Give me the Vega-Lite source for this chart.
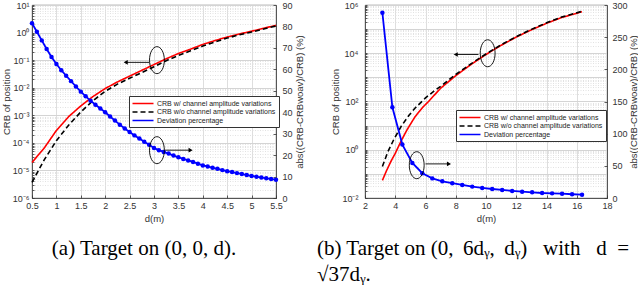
{
  "$schema": "https://vega.github.io/schema/vega-lite/v6.json",
  "padding": {"left": 0, "top": 0, "right": 0, "bottom": 0},
  "config": {
    "view": {"stroke": "#333333", "strokeWidth": 0.8},
    "axis": {"labelFont": "Liberation Sans", "labelFontSize": 9, "labelColor": "#333333", "titleFont": "Liberation Sans", "titleFontSize": 9.5, "titleFontWeight": "normal", "titleColor": "#333333", "domainColor": "#333333", "tickColor": "#333333", "domainWidth": 0.8, "tickWidth": 0.8, "labelOverlap": false, "labelFlush": false},
    "title": {"font": "Liberation Serif", "fontSize": 21, "fontWeight": "normal", "color": "#000000", "orient": "bottom", "lineHeight": 26}
  },
  "datasets": {
    "crbA": [
      {"d": 0.5, "series": "CRB w/ channel amplitude variations", "crb": 1.95e-5},
      {"d": 0.75, "series": "CRB w/ channel amplitude variations", "crb": 6.46e-5},
      {"d": 1.0, "series": "CRB w/ channel amplitude variations", "crb": 2.82e-4},
      {"d": 1.25, "series": "CRB w/ channel amplitude variations", "crb": 8.91e-4},
      {"d": 1.5, "series": "CRB w/ channel amplitude variations", "crb": 2.19e-3},
      {"d": 1.75, "series": "CRB w/ channel amplitude variations", "crb": 4.79e-3},
      {"d": 2.0, "series": "CRB w/ channel amplitude variations", "crb": 9.33e-3},
      {"d": 2.25, "series": "CRB w/ channel amplitude variations", "crb": 1.62e-2},
      {"d": 2.5, "series": "CRB w/ channel amplitude variations", "crb": 2.63e-2},
      {"d": 2.75, "series": "CRB w/ channel amplitude variations", "crb": 4.27e-2},
      {"d": 3.0, "series": "CRB w/ channel amplitude variations", "crb": 6.92e-2},
      {"d": 3.25, "series": "CRB w/ channel amplitude variations", "crb": 0.112},
      {"d": 3.5, "series": "CRB w/ channel amplitude variations", "crb": 0.174},
      {"d": 3.75, "series": "CRB w/ channel amplitude variations", "crb": 0.251},
      {"d": 4.0, "series": "CRB w/ channel amplitude variations", "crb": 0.372},
      {"d": 4.25, "series": "CRB w/ channel amplitude variations", "crb": 0.513},
      {"d": 4.5, "series": "CRB w/ channel amplitude variations", "crb": 0.692},
      {"d": 4.75, "series": "CRB w/ channel amplitude variations", "crb": 0.891},
      {"d": 5.0, "series": "CRB w/ channel amplitude variations", "crb": 1.122},
      {"d": 5.25, "series": "CRB w/ channel amplitude variations", "crb": 1.445},
      {"d": 5.5, "series": "CRB w/ channel amplitude variations", "crb": 1.82},
      {"d": 0.5, "series": "CRB w/o channel amplitude variations", "crb": 3.72e-6},
      {"d": 0.75, "series": "CRB w/o channel amplitude variations", "crb": 2.40e-5},
      {"d": 1.0, "series": "CRB w/o channel amplitude variations", "crb": 1.20e-4},
      {"d": 1.25, "series": "CRB w/o channel amplitude variations", "crb": 4.37e-4},
      {"d": 1.5, "series": "CRB w/o channel amplitude variations", "crb": 1.32e-3},
      {"d": 1.75, "series": "CRB w/o channel amplitude variations", "crb": 3.39e-3},
      {"d": 2.0, "series": "CRB w/o channel amplitude variations", "crb": 7.41e-3},
      {"d": 2.25, "series": "CRB w/o channel amplitude variations", "crb": 1.35e-2},
      {"d": 2.5, "series": "CRB w/o channel amplitude variations", "crb": 2.19e-2},
      {"d": 2.75, "series": "CRB w/o channel amplitude variations", "crb": 3.55e-2},
      {"d": 3.0, "series": "CRB w/o channel amplitude variations", "crb": 5.75e-2},
      {"d": 3.25, "series": "CRB w/o channel amplitude variations", "crb": 9.55e-2},
      {"d": 3.5, "series": "CRB w/o channel amplitude variations", "crb": 0.148},
      {"d": 3.75, "series": "CRB w/o channel amplitude variations", "crb": 0.219},
      {"d": 4.0, "series": "CRB w/o channel amplitude variations", "crb": 0.324},
      {"d": 4.25, "series": "CRB w/o channel amplitude variations", "crb": 0.457},
      {"d": 4.5, "series": "CRB w/o channel amplitude variations", "crb": 0.631},
      {"d": 4.75, "series": "CRB w/o channel amplitude variations", "crb": 0.832},
      {"d": 5.0, "series": "CRB w/o channel amplitude variations", "crb": 1.047},
      {"d": 5.25, "series": "CRB w/o channel amplitude variations", "crb": 1.349},
      {"d": 5.5, "series": "CRB w/o channel amplitude variations", "crb": 1.738}
    ],
    "devA": [
      {"d": 0.5, "dev": 81.5}, {"d": 0.6, "dev": 77.5}, {"d": 0.7, "dev": 73.5}, {"d": 0.8, "dev": 69.5}, {"d": 0.9, "dev": 65.8},
      {"d": 1.0, "dev": 62.5}, {"d": 1.1, "dev": 59.6}, {"d": 1.2, "dev": 57.0}, {"d": 1.3, "dev": 54.5}, {"d": 1.4, "dev": 52.0},
      {"d": 1.5, "dev": 49.6}, {"d": 1.6, "dev": 47.4}, {"d": 1.7, "dev": 45.4}, {"d": 1.8, "dev": 43.5}, {"d": 1.9, "dev": 41.7},
      {"d": 2.0, "dev": 40.0}, {"d": 2.1, "dev": 38.0}, {"d": 2.2, "dev": 36.1}, {"d": 2.3, "dev": 34.2}, {"d": 2.4, "dev": 32.4},
      {"d": 2.5, "dev": 30.8}, {"d": 2.6, "dev": 29.2}, {"d": 2.7, "dev": 27.7}, {"d": 2.8, "dev": 26.2}, {"d": 2.9, "dev": 24.8},
      {"d": 3.0, "dev": 23.3}, {"d": 3.1, "dev": 22.3}, {"d": 3.2, "dev": 21.5}, {"d": 3.3, "dev": 20.7}, {"d": 3.4, "dev": 19.8},
      {"d": 3.5, "dev": 19.0}, {"d": 3.6, "dev": 18.2}, {"d": 3.7, "dev": 17.5}, {"d": 3.8, "dev": 16.8}, {"d": 3.9, "dev": 16.0},
      {"d": 4.0, "dev": 15.2}, {"d": 4.1, "dev": 14.7}, {"d": 4.2, "dev": 14.1}, {"d": 4.3, "dev": 13.6}, {"d": 4.4, "dev": 13.0},
      {"d": 4.5, "dev": 12.5}, {"d": 4.6, "dev": 12.1}, {"d": 4.7, "dev": 11.6}, {"d": 4.8, "dev": 11.2}, {"d": 4.9, "dev": 10.7},
      {"d": 5.0, "dev": 10.3}, {"d": 5.1, "dev": 9.9}, {"d": 5.2, "dev": 9.6}, {"d": 5.3, "dev": 9.2}, {"d": 5.4, "dev": 8.9},
      {"d": 5.5, "dev": 8.5}
    ],
    "crbB": [
      {"d": 3.15, "series": "CRB w/ channel amplitude variations", "crb": 0.0537},
      {"d": 3.4, "series": "CRB w/ channel amplitude variations", "crb": 0.126},
      {"d": 3.7, "series": "CRB w/ channel amplitude variations", "crb": 0.316},
      {"d": 4.0, "series": "CRB w/ channel amplitude variations", "crb": 0.708},
      {"d": 4.4, "series": "CRB w/ channel amplitude variations", "crb": 2.40},
      {"d": 4.8, "series": "CRB w/ channel amplitude variations", "crb": 7.08},
      {"d": 5.3, "series": "CRB w/ channel amplitude variations", "crb": 22.9},
      {"d": 5.8, "series": "CRB w/ channel amplitude variations", "crb": 56.2},
      {"d": 6.2, "series": "CRB w/ channel amplitude variations", "crb": 100},
      {"d": 7.0, "series": "CRB w/ channel amplitude variations", "crb": 355},
      {"d": 8.0, "series": "CRB w/ channel amplitude variations", "crb": 1175},
      {"d": 9.0, "series": "CRB w/ channel amplitude variations", "crb": 3388},
      {"d": 10.0, "series": "CRB w/ channel amplitude variations", "crb": 8913},
      {"d": 11.0, "series": "CRB w/ channel amplitude variations", "crb": 21380},
      {"d": 12.0, "series": "CRB w/ channel amplitude variations", "crb": 46774},
      {"d": 13.0, "series": "CRB w/ channel amplitude variations", "crb": 93325},
      {"d": 14.0, "series": "CRB w/ channel amplitude variations", "crb": 173780},
      {"d": 15.0, "series": "CRB w/ channel amplitude variations", "crb": 302000},
      {"d": 16.35, "series": "CRB w/ channel amplitude variations", "crb": 524800},
      {"d": 3.15, "series": "CRB w/o channel amplitude variations", "crb": 0.204},
      {"d": 3.5, "series": "CRB w/o channel amplitude variations", "crb": 0.794},
      {"d": 3.9, "series": "CRB w/o channel amplitude variations", "crb": 2.63},
      {"d": 4.4, "series": "CRB w/o channel amplitude variations", "crb": 9.55},
      {"d": 4.9, "series": "CRB w/o channel amplitude variations", "crb": 26.3},
      {"d": 5.3, "series": "CRB w/o channel amplitude variations", "crb": 52.5},
      {"d": 6.0, "series": "CRB w/o channel amplitude variations", "crb": 141},
      {"d": 6.5, "series": "CRB w/o channel amplitude variations", "crb": 251},
      {"d": 7.0, "series": "CRB w/o channel amplitude variations", "crb": 427},
      {"d": 8.0, "series": "CRB w/o channel amplitude variations", "crb": 1318},
      {"d": 9.0, "series": "CRB w/o channel amplitude variations", "crb": 3631},
      {"d": 10.0, "series": "CRB w/o channel amplitude variations", "crb": 9333},
      {"d": 11.0, "series": "CRB w/o channel amplitude variations", "crb": 22387},
      {"d": 12.0, "series": "CRB w/o channel amplitude variations", "crb": 48978},
      {"d": 13.0, "series": "CRB w/o channel amplitude variations", "crb": 97724},
      {"d": 14.0, "series": "CRB w/o channel amplitude variations", "crb": 181970},
      {"d": 15.0, "series": "CRB w/o channel amplitude variations", "crb": 316228},
      {"d": 16.35, "series": "CRB w/o channel amplitude variations", "crb": 549541}
    ],
    "devB": [
      {"d": 3.15, "dev": 288}, {"d": 3.81, "dev": 141}, {"d": 4.47, "dev": 83}, {"d": 5.13, "dev": 54.5},
      {"d": 5.79, "dev": 38.5}, {"d": 6.45, "dev": 30.5}, {"d": 7.11, "dev": 26}, {"d": 7.77, "dev": 23},
      {"d": 8.43, "dev": 20.3}, {"d": 9.09, "dev": 17.7}, {"d": 9.75, "dev": 15.6}, {"d": 10.41, "dev": 14},
      {"d": 11.07, "dev": 12.5}, {"d": 11.73, "dev": 11}, {"d": 12.39, "dev": 9.8}, {"d": 13.05, "dev": 8.8},
      {"d": 13.71, "dev": 7.8}, {"d": 14.37, "dev": 7.2}, {"d": 15.03, "dev": 6.7}, {"d": 15.69, "dev": 5.8},
      {"d": 16.35, "dev": 5.2}
    ]
  },
  "spacing": 12,
  "resolve": {"scale": {"color": "independent", "strokeDash": "independent"}, "legend": {"color": "independent", "strokeDash": "independent"}},
  "hconcat": [
    {
      "width": 244,
      "height": 193,
      "title": {"text": "(a) Target on (0, 0, d).", "anchor": "middle", "frame": "group", "dx": -10, "offset": 15},
      "resolve": {"scale": {"y": "independent"}},
      "layer": [
        {
          "layer": [
            {
              "data": {"name": "crbA"},
              "mark": {"type": "line", "strokeWidth": 1.6},
              "encoding": {
                "x": {"field": "d", "type": "quantitative", "scale": {"domain": [0.5, 5.5], "nice": false, "zero": false},
                      "axis": {"title": "d(m)", "values": [0.5, 1, 1.5, 2, 2.5, 3, 3.5, 4, 4.5, 5, 5.5], "tickCount": 50, "format": "~g", "labelOverlap": false, "labelFlush": false, "grid": true, "gridColor": "#dedede", "tickSize": -3, "labelPadding": 6, "titlePadding": 3}},
                "y": {"field": "crb", "type": "quantitative", "scale": {"type": "log", "domain": [1e-6, 10], "nice": false},
                      "axis": {"title": "CRB of position", "titlePadding": 1, "tickSize": -2, "labelPadding": 5, "grid": true, "labelOverlap": false, "tickCount": 200,
                               "values": [1e-6,2e-6,3e-6,4e-6,5e-6,6e-6,7e-6,8e-6,9e-6,1e-5,2e-5,3e-5,4e-5,5e-5,6e-5,7e-5,8e-5,9e-5,1e-4,2e-4,3e-4,4e-4,5e-4,6e-4,7e-4,8e-4,9e-4,0.001,0.002,0.003,0.004,0.005,0.006,0.007,0.008,0.009,0.01,0.02,0.03,0.04,0.05,0.06,0.07,0.08,0.09,0.1,0.2,0.3,0.4,0.5,0.6,0.7,0.8,0.9,1,2,3,4,5,6,7,8,9,10],
                               "labelExpr": "abs(log(datum.value)/LN10 - round(log(datum.value)/LN10)) < 0.01 ? '10' + replace(replace(replace(replace(replace(replace(replace(replace('' + round(log(datum.value)/LN10), '-', '⁻'), '0', '⁰'), '1', '¹'), '2', '²'), '3', '³'), '4', '⁴'), '5', '⁵'), '6', '⁶') : ''",
                               "gridColor": {"condition": {"test": "abs(log(datum.value)/LN10 - round(log(datum.value)/LN10)) < 0.01", "value": "#d4d4d4"}, "value": "#e2e2e2"},
                               "gridDash": {"condition": {"test": "abs(log(datum.value)/LN10 - round(log(datum.value)/LN10)) < 0.01", "value": []}, "value": [1, 1.5]}}},
                "color": {"field": "series", "type": "nominal",
                          "scale": {"domain": ["CRB w/ channel amplitude variations", "CRB w/o channel amplitude variations", "Deviation percentage"], "range": ["#ff0000", "#000000", "#0000ff"]},
                          "legend": {"title": null, "orient": "none", "legendX": 97, "legendY": 91, "symbolType": "M-3,0L3,0", "symbolSize": 49, "symbolOffset": 6.5, "symbolStrokeWidth": 1.6, "labelFontSize": 7, "labelFont": "Liberation Sans", "labelColor": "#222222", "rowPadding": 0.5, "padding": 3, "strokeColor": "#333333", "fillColor": "#ffffff", "labelOffset": 9.5, "labelLimit": 250}},
                "strokeDash": {"field": "series", "type": "nominal",
                          "scale": {"domain": ["CRB w/ channel amplitude variations", "CRB w/o channel amplitude variations", "Deviation percentage"], "range": [[1, 0], [5, 3], [1, 0]]},
                          "legend": {"title": null, "orient": "none", "legendX": 97, "legendY": 91, "symbolType": "M-3,0L3,0", "symbolSize": 49, "symbolOffset": 6.5, "symbolStrokeWidth": 1.6, "labelFontSize": 7, "labelFont": "Liberation Sans", "labelColor": "#222222", "rowPadding": 0.5, "padding": 3, "strokeColor": "#333333", "fillColor": "#ffffff", "labelOffset": 9.5, "labelLimit": 250}}
              }
            },
            {
              "data": {"values": [{"d": 3.06, "crb": 0.1}]},
              "mark": {"type": "point", "shape": "M0,-1A0.55,1,0,1,1,0,1A0.55,1,0,1,1,0,-1Z", "size": 729, "filled": false, "color": "#000000", "strokeWidth": 0.9, "opacity": 1},
              "encoding": {
                "x": {"field": "d", "type": "quantitative", "scale": {"domain": [0.5, 5.5], "nice": false, "zero": false}},
                "y": {"field": "crb", "type": "quantitative", "scale": {"type": "log", "domain": [1e-6, 10], "nice": false}}
              }
            },
            {
              "data": {"values": [{"d": 2.9, "d2": 2.42, "crb": 0.083}]},
              "mark": {"type": "rule", "color": "#000000", "strokeWidth": 0.9},
              "encoding": {
                "x": {"field": "d", "type": "quantitative", "scale": {"domain": [0.5, 5.5], "nice": false, "zero": false}},
                "x2": {"field": "d2"},
                "y": {"field": "crb", "type": "quantitative", "scale": {"type": "log", "domain": [1e-6, 10], "nice": false}}
              }
            },
            {
              "data": {"values": [{"d": 2.42, "crb": 0.083}]},
              "mark": {"type": "point", "shape": "triangle-left", "size": 22, "filled": true, "color": "#000000", "opacity": 1},
              "encoding": {
                "x": {"field": "d", "type": "quantitative", "scale": {"domain": [0.5, 5.5], "nice": false, "zero": false}},
                "y": {"field": "crb", "type": "quantitative", "scale": {"type": "log", "domain": [1e-6, 10], "nice": false}}
              }
            }
          ]
        },
        {
          "layer": [
            {
              "data": {"name": "devA"},
              "mark": {"type": "line", "color": "#0000ff", "strokeWidth": 1.8},
              "encoding": {
                "x": {"field": "d", "type": "quantitative", "scale": {"domain": [0.5, 5.5], "nice": false, "zero": false}},
                "y": {"field": "dev", "type": "quantitative", "scale": {"domain": [0, 90], "nice": false},
                      "axis": {"orient": "right", "title": "abs((CRB-CRBwoav)/CRB) (%)", "values": [0, 10, 20, 30, 40, 50, 60, 70, 80, 90], "tickCount": 50, "labelOverlap": false, "grid": false, "tickSize": -3, "labelPadding": 9, "titlePadding": 2, "titleAngle": 270, "titleBaseline": "top"}}
              }
            },
            {
              "data": {"name": "devA"},
              "mark": {"type": "point", "shape": "circle", "size": 20, "filled": true, "color": "#0000ff", "opacity": 1},
              "encoding": {
                "x": {"field": "d", "type": "quantitative", "scale": {"domain": [0.5, 5.5], "nice": false, "zero": false}},
                "y": {"field": "dev", "type": "quantitative", "scale": {"domain": [0, 90], "nice": false}}
              }
            },
            {
              "data": {"values": [{"d": 3.06, "dev": 22.3}]},
              "mark": {"type": "point", "shape": "M0,-1A0.55,1,0,1,1,0,1A0.55,1,0,1,1,0,-1Z", "size": 729, "filled": false, "color": "#000000", "strokeWidth": 0.9, "opacity": 1},
              "encoding": {
                "x": {"field": "d", "type": "quantitative", "scale": {"domain": [0.5, 5.5], "nice": false, "zero": false}},
                "y": {"field": "dev", "type": "quantitative", "scale": {"domain": [0, 90], "nice": false}}
              }
            },
            {
              "data": {"values": [{"d": 3.23, "d2": 3.75, "dev": 22.3}]},
              "mark": {"type": "rule", "color": "#000000", "strokeWidth": 0.9},
              "encoding": {
                "x": {"field": "d", "type": "quantitative", "scale": {"domain": [0.5, 5.5], "nice": false, "zero": false}},
                "x2": {"field": "d2"},
                "y": {"field": "dev", "type": "quantitative", "scale": {"domain": [0, 90], "nice": false}}
              }
            },
            {
              "data": {"values": [{"d": 3.75, "dev": 22.3}]},
              "mark": {"type": "point", "shape": "triangle-right", "size": 22, "filled": true, "color": "#000000", "opacity": 1},
              "encoding": {
                "x": {"field": "d", "type": "quantitative", "scale": {"domain": [0.5, 5.5], "nice": false, "zero": false}},
                "y": {"field": "dev", "type": "quantitative", "scale": {"domain": [0, 90], "nice": false}}
              }
            }
          ]
        }
      ]
    },
    {
      "width": 242,
      "height": 193,
      "title": {"text": ["(b) Target on (0,\u2009 6dᵧ,\u2009 dᵧ)\u2002 with\u2002 d\u2002=", "√37dᵧ."], "anchor": "start", "align": "left", "frame": "group", "dx": -48, "offset": 15},
      "resolve": {"scale": {"y": "independent"}},
      "layer": [
        {
          "layer": [
            {
              "data": {"name": "crbB"},
              "mark": {"type": "line", "strokeWidth": 1.6},
              "encoding": {
                "x": {"field": "d", "type": "quantitative", "scale": {"domain": [2, 18], "nice": false, "zero": false},
                      "axis": {"title": "d(m)", "values": [2, 4, 6, 8, 10, 12, 14, 16, 18], "tickCount": 50, "format": "~g", "labelOverlap": false, "labelFlush": false, "grid": true, "gridColor": "#dedede", "tickSize": -3, "labelPadding": 6, "titlePadding": 3}},
                "y": {"field": "crb", "type": "quantitative", "scale": {"type": "log", "domain": [0.01, 1000000], "nice": false},
                      "axis": {"title": "CRB of position", "titlePadding": 1, "tickSize": -2, "labelPadding": 9, "grid": true, "labelOverlap": false, "tickCount": 200,
                               "values": [0.01,0.02,0.03,0.04,0.05,0.06,0.07,0.08,0.09,0.1,0.2,0.3,0.4,0.5,0.6,0.7,0.8,0.9,1,2,3,4,5,6,7,8,9,10,20,30,40,50,60,70,80,90,100,200,300,400,500,600,700,800,900,1000,2000,3000,4000,5000,6000,7000,8000,9000,10000,20000,30000,40000,50000,60000,70000,80000,90000,100000,200000,300000,400000,500000,600000,700000,800000,900000,1000000],
                               "labelExpr": "abs(log(datum.value)/LN10 - round(log(datum.value)/LN10)) < 0.01 && round(log(datum.value)/LN10) % 2 == 0 ? '10' + replace(replace(replace(replace(replace(replace(replace(replace('' + round(log(datum.value)/LN10), '-', '⁻'), '0', '⁰'), '1', '¹'), '2', '²'), '3', '³'), '4', '⁴'), '5', '⁵'), '6', '⁶') : ''",
                               "gridColor": {"condition": {"test": "abs(log(datum.value)/LN10 - round(log(datum.value)/LN10)) < 0.01", "value": "#d4d4d4"}, "value": "#e2e2e2"},
                               "gridDash": {"condition": {"test": "abs(log(datum.value)/LN10 - round(log(datum.value)/LN10)) < 0.01", "value": []}, "value": [1, 1.5]}}},
                "color": {"field": "series", "type": "nominal",
                          "scale": {"domain": ["CRB w/ channel amplitude variations", "CRB w/o channel amplitude variations", "Deviation percentage"], "range": ["#ff0000", "#000000", "#0000ff"]},
                          "legend": {"title": null, "orient": "none", "legendX": 91, "legendY": 105, "symbolType": "M-3,0L3,0", "symbolSize": 49, "symbolOffset": 6.5, "symbolStrokeWidth": 1.6, "labelFontSize": 7, "labelFont": "Liberation Sans", "labelColor": "#222222", "rowPadding": 0.5, "padding": 3, "strokeColor": "#333333", "fillColor": "#ffffff", "labelOffset": 9.5, "labelLimit": 250}},
                "strokeDash": {"field": "series", "type": "nominal",
                          "scale": {"domain": ["CRB w/ channel amplitude variations", "CRB w/o channel amplitude variations", "Deviation percentage"], "range": [[1, 0], [5, 3], [1, 0]]},
                          "legend": {"title": null, "orient": "none", "legendX": 91, "legendY": 105, "symbolType": "M-3,0L3,0", "symbolSize": 49, "symbolOffset": 6.5, "symbolStrokeWidth": 1.6, "labelFontSize": 7, "labelFont": "Liberation Sans", "labelColor": "#222222", "rowPadding": 0.5, "padding": 3, "strokeColor": "#333333", "fillColor": "#ffffff", "labelOffset": 9.5, "labelLimit": 250}}
              }
            },
            {
              "data": {"values": [{"d": 10.11, "crb": 10000}]},
              "mark": {"type": "point", "shape": "M0,-1A0.55,1,0,1,1,0,1A0.55,1,0,1,1,0,-1Z", "size": 729, "filled": false, "color": "#000000", "strokeWidth": 0.9, "opacity": 1},
              "encoding": {
                "x": {"field": "d", "type": "quantitative", "scale": {"domain": [2, 18], "nice": false, "zero": false}},
                "y": {"field": "crb", "type": "quantitative", "scale": {"type": "log", "domain": [0.01, 1000000], "nice": false}}
              }
            },
            {
              "data": {"values": [{"d": 9.5, "d2": 8.0, "crb": 8900}]},
              "mark": {"type": "rule", "color": "#000000", "strokeWidth": 0.9},
              "encoding": {
                "x": {"field": "d", "type": "quantitative", "scale": {"domain": [2, 18], "nice": false, "zero": false}},
                "x2": {"field": "d2"},
                "y": {"field": "crb", "type": "quantitative", "scale": {"type": "log", "domain": [0.01, 1000000], "nice": false}}
              }
            },
            {
              "data": {"values": [{"d": 8.0, "crb": 8900}]},
              "mark": {"type": "point", "shape": "triangle-left", "size": 22, "filled": true, "color": "#000000", "opacity": 1},
              "encoding": {
                "x": {"field": "d", "type": "quantitative", "scale": {"domain": [2, 18], "nice": false, "zero": false}},
                "y": {"field": "crb", "type": "quantitative", "scale": {"type": "log", "domain": [0.01, 1000000], "nice": false}}
              }
            }
          ]
        },
        {
          "layer": [
            {
              "data": {"name": "devB"},
              "mark": {"type": "line", "color": "#0000ff", "strokeWidth": 1.8},
              "encoding": {
                "x": {"field": "d", "type": "quantitative", "scale": {"domain": [2, 18], "nice": false, "zero": false}},
                "y": {"field": "dev", "type": "quantitative", "scale": {"domain": [0, 300], "nice": false},
                      "axis": {"orient": "right", "title": "abs((CRB-CRBwoav)/CRB) (%)", "values": [0, 50, 100, 150, 200, 250, 300], "tickCount": 50, "labelOverlap": false, "grid": false, "tickSize": -3, "labelPadding": 8, "titlePadding": 1, "titleAngle": 270, "titleBaseline": "top"}}
              }
            },
            {
              "data": {"name": "devB"},
              "mark": {"type": "point", "shape": "circle", "size": 20, "filled": true, "color": "#0000ff", "opacity": 1},
              "encoding": {
                "x": {"field": "d", "type": "quantitative", "scale": {"domain": [2, 18], "nice": false, "zero": false}},
                "y": {"field": "dev", "type": "quantitative", "scale": {"domain": [0, 300], "nice": false}}
              }
            },
            {
              "data": {"values": [{"d": 5.42, "dev": 51}]},
              "mark": {"type": "point", "shape": "M0,-1A0.55,1,0,1,1,0,1A0.55,1,0,1,1,0,-1Z", "size": 729, "filled": false, "color": "#000000", "strokeWidth": 0.9, "opacity": 1},
              "encoding": {
                "x": {"field": "d", "type": "quantitative", "scale": {"domain": [2, 18], "nice": false, "zero": false}},
                "y": {"field": "dev", "type": "quantitative", "scale": {"domain": [0, 300], "nice": false}}
              }
            },
            {
              "data": {"values": [{"d": 6.0, "d2": 7.55, "dev": 53}]},
              "mark": {"type": "rule", "color": "#000000", "strokeWidth": 0.9},
              "encoding": {
                "x": {"field": "d", "type": "quantitative", "scale": {"domain": [2, 18], "nice": false, "zero": false}},
                "x2": {"field": "d2"},
                "y": {"field": "dev", "type": "quantitative", "scale": {"domain": [0, 300], "nice": false}}
              }
            },
            {
              "data": {"values": [{"d": 7.55, "dev": 53}]},
              "mark": {"type": "point", "shape": "triangle-right", "size": 22, "filled": true, "color": "#000000", "opacity": 1},
              "encoding": {
                "x": {"field": "d", "type": "quantitative", "scale": {"domain": [2, 18], "nice": false, "zero": false}},
                "y": {"field": "dev", "type": "quantitative", "scale": {"domain": [0, 300], "nice": false}}
              }
            }
          ]
        }
      ]
    }
  ]
}
